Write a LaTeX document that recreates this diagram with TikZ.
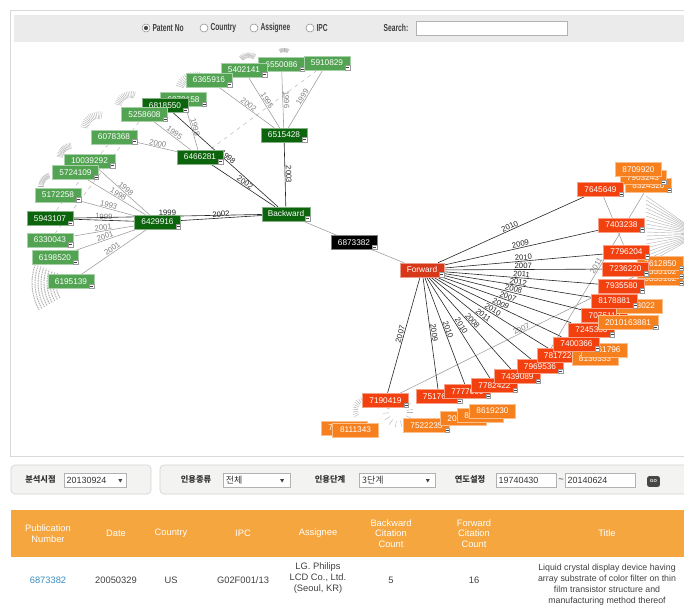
\documentclass[tikz,border=0pt]{standalone}
\usepackage{fontspec}
\setmainfont{Liberation Sans}
\newfontfamily\narrowfont[FakeStretch=0.66]{Liberation Sans}
\newfontfamily\krfont{Noto Sans CJK KR}
\usetikzlibrary{positioning, calc, backgrounds}

\definecolor{dkgreen}{HTML}{0C640C}
\definecolor{ltgreen}{HTML}{52A352}
\definecolor{fwred}{HTML}{D8381A}
\definecolor{citred}{HTML}{F2410F}
\definecolor{citorange}{HTML}{F7801E}
\definecolor{barbg}{HTML}{EBEBEB}
\definecolor{ctlbg}{HTML}{F3F3F1}
\definecolor{hdrorange}{HTML}{F5A63F}
\definecolor{linkblue}{HTML}{3B8EBE}

\begin{document}
\begin{tikzpicture}[x=0.75pt, y=-0.75pt,
    pat/.style={
        rectangle,
        draw=white!50!#1,
        fill=#1,
        text=white,
        minimum width=34.5pt,
        minimum height=10.5pt,
        inner sep=0pt,
        line width=0.4pt,
        font=\fontsize{6.2}{7}\selectfont
    },
    mi/.style={
        append after command={
            node[minus, anchor=south east] at (\tikzlastnode.south east) {}}
    },
    minus/.style={
        draw=black!40,
        fill=white,
        inner sep=0pt,
        minimum size=3.6pt,
        line width=0.3pt,
        path picture={\draw[black!75, line width=0.5pt]
            ([xshift=0.8pt]path picture bounding box.west) --
            ([xshift=-0.8pt]path picture bounding box.east);}
    },
    link/.style={black!85, line width=0.45pt},
    glink/.style={black!40, line width=0.4pt},
    dlink/.style={black!28, line width=0.35pt, dashed},
    yr/.style={font=\fontsize{5.8}{6}\selectfont, sloped, inner sep=0.5pt, above},
    gyr/.style={yr, text=black!50},
    clut/.style={black!30, line width=0.3pt},
    bartxt/.style={
        font=\narrowfont\bfseries\fontsize{7.6}{8}\selectfont,
        text=black!75,
        inner sep=1pt
    },
    radio/.style={circle, draw=black!45, fill=white, minimum size=6pt,
        inner sep=0pt, line width=0.4pt},
    inbox/.style={
        rectangle,
        draw=black!30,
        fill=white,
        minimum height=10.5pt,
        inner sep=2pt,
        line width=0.4pt,
        font=\fontsize{6.7}{8}\selectfont,
        text=black!80
    },
    ctlbox/.style={draw=black!17, fill=ctlbg, rounded corners=3pt, line width=0.5pt},
    krlbl/.style={font=\krfont\bfseries\fontsize{6.2}{8}\selectfont, text=black!80, inner sep=0pt},
    hdr/.style={font=\fontsize{7}{7.9}\selectfont, text=white, align=center, inner sep=0pt},
    cell/.style={font=\fontsize{7}{8.25}\selectfont, text=black!75, align=center, inner sep=0pt}
]
\useasboundingbox (0,0) rectangle (684,606);

% Panels
\begin{scope}[on background layer]
\fill[white] (0,0) rectangle (684,606);
\draw[black!15] (10.5,10.5) rectangle (700,456);
\fill[barbg, draw=black!8] (14,15) rectangle (700,41);
\end{scope}

% Top bar
\node[radio] (rpat) at (146,28) {};
\fill[black!70] (rpat) circle (1.6pt);
\node[bartxt, right=0.5pt of rpat] (tpat) {Patent No};
\node[radio] (rcty) at (204,28) {};
\node[bartxt, right=0.5pt of rcty] (tcty) {Country};
\node[radio] (rasg) at (254,28) {};
\node[bartxt, right=0.5pt of rasg] (tasg) {Assignee};
\node[radio] (ripc) at (310,28) {};
\node[bartxt, right=0.5pt of ripc] (tipc) {IPC};
\node[bartxt] (tsrch) at (396,28) {Search:};
\node[inbox, minimum width=113pt] (sbox) at (491.5,28) {};

% Backward tree
\node[pat=ltgreen, mi] (g6550086) at (281.5,64.5) {6550086};
\node[pat=ltgreen, mi] (g5402141) at (244,70) {5402141};
\node[pat=ltgreen, mi] (g6365916) at (209,80) {6365916};
\node[pat=ltgreen, mi] (g5910829) at (327,63) {5910829};
\node[pat=ltgreen, mi] (g6070158) at (183.5,99.5) {6070158};
\node[pat=dkgreen, mi] (b5) at (165,105.5) {6818550};
\node[pat=ltgreen, mi] (g5258608) at (144.5,114.5) {5258608};
\node[pat=ltgreen, mi] (g6078368) at (114,137) {6078368};
\node[pat=ltgreen, mi, minimum width=38.25pt] (g10039292) at (89.5,161) {10039292};
\node[pat=ltgreen, mi] (g5724109) at (75.5,172.5) {5724109};
\node[pat=ltgreen, mi] (g5172258) at (58,195) {5172258};
\node[pat=dkgreen, mi] (b4) at (50,218.5) {5943107};
\node[pat=ltgreen, mi] (g6330043) at (50,240) {6330043};
\node[pat=ltgreen, mi] (g6198520) at (55,257.5) {6198520};
\node[pat=ltgreen, mi] (g6195139) at (71,281.5) {6195139};
\node[pat=dkgreen, mi] (b1) at (284,135) {6515428};
\node[pat=dkgreen, mi] (b2) at (200,157) {6466281};
\node[pat=dkgreen, mi] (b3) at (157.5,222) {6429916};
\node[pat=dkgreen, mi, minimum width=36pt] (bw) at (286,214) {Backward};
\node[pat=black, mi] (root) at (354,242.5) {6873382};
\node[pat=fwred, mi, minimum width=33pt] (fw) at (422,270) {Forward};

% Forward tree
\node[pat=citorange] (o7648201) at (344.5,428) {7648201};
\node[pat=citorange] (o8111343) at (355.5,430) {8111343};
\node[pat=citorange, mi] (o7522235) at (426.5,425.5) {7522235};
\node[pat=citorange] (o2012075) at (463.5,418.5) {2012075};
\node[pat=citorange] (o8093871) at (480.5,415.5) {8093871};
\node[pat=citorange] (o8619230) at (492.5,411) {8619230};
\node[pat=citred, mi] (r7190419) at (385.5,400.5) {7190419};
\node[pat=citred, mi] (r7517662) at (439,396.5) {7517662};
\node[pat=citred, mi] (r7777000) at (467.5,391.5) {7777000};
\node[pat=citred, mi] (r7782422) at (494.5,385.5) {7782422};
\node[pat=citred, mi] (r7439089) at (517.5,376.5) {7439089};
\node[pat=citred, mi] (r7969536) at (540,366.5) {7969536};
\node[pat=citred, mi] (r7817224) at (560,355.5) {7817224};
\node[pat=citorange] (o8136333) at (595,358.5) {8136333};
\node[pat=citorange] (o8861796) at (604.5,350) {8861796};
\node[pat=citred, mi] (r7400366) at (576.5,344) {7400366};
\node[pat=citred, mi] (r7245330) at (591.5,330) {7245330};
\node[pat=citred, mi] (r7075110) at (604.5,315.5) {7075110};
\node[pat=citorange, mi, minimum width=45pt] (o2010163881) at (628,322.5) {2010163881};
\node[pat=citorange] (o8373022) at (639,306) {8373022};
\node[pat=citred, mi] (r8178881) at (614.5,301) {8178881};
\node[pat=citorange, mi] (o6555162) at (660.5,278.5) {6555162};
\node[pat=citorange, mi] (o5555102) at (660.5,271.5) {5555102};
\node[pat=citorange, mi] (o7612850) at (660.5,263.5) {7612850};
\node[pat=citred, mi] (r7935580) at (621.5,286) {7935580};
\node[pat=citred, mi] (r7236220) at (625.5,269) {7236220};
\node[pat=citred, mi] (r7796204) at (626.5,252) {7796204};
\node[pat=citred, mi] (r7403238) at (621.5,225) {7403238};
\node[pat=citorange, mi] (o8324320) at (648.5,185.5) {8324320};
\node[pat=citorange, mi] (o7903243) at (643,177.5) {7903243};
\node[pat=citorange] (o8709920) at (638.5,169.5) {8709920};
\node[pat=citred, mi] (r7645649) at (600.5,189.5) {7645649};

% Links
\begin{scope}[on background layer]
% third-level clutter
\foreach \cx/\cy/\ra/\rb/\rr in {195/92/200/290/12, 249/66/225/300/8,
    284/58/240/300/6, 131/108/195/285/10, 99/130/190/280/11,
    72/158/185/265/9, 52/186/180/255/8, 398/412/0/350/9, 366/410/150/300/8}
  \foreach \i in {0,...,14}
    \draw[clut] (\cx,\cy) ++({\ra+\i*(\rb-\ra)/14}:\rr)
        -- ++({\ra+\i*(\rb-\ra)/14}:{0.7*\rr});
\foreach \rr in {30,33,...,54}
  \draw[clut, line width=0.7pt, dash pattern=on 1.2pt off 0.6pt]
      (86,283) ++(150:\rr) arc[start angle=150, end angle=200, radius=\rr];
\foreach \yy in {196,200,...,264}
  \draw[clut] (646,\yy) -- (700,234);

\draw[dlink] (g5910829) -- (b2);
\draw[dlink] (g5258608) -- (g6330043);
\draw[dlink] (g6078368) -- (b4);

% backward
\draw[glink] (b1) -- node[gyr] {1995} (g5402141);
\draw[glink] (b1) -- node[gyr] {1996} (g6550086);
\draw[glink] (b1) -- node[gyr] {1999} (g5910829);
\draw[glink] (b1) -- node[gyr] {2002} (g6365916);
\draw[glink] (b2) -- node[gyr] {1998} (g6070158);
\draw[glink] (b2) -- node[gyr] {1995} (g5258608);
\draw[glink] (b2) -- node[gyr] {2000} (g6078368);
\draw[glink] (b3) -- node[gyr] {1998} (g10039292);
\draw[glink] (b3) -- node[gyr] {1998} (g5724109);
\draw[glink] (b3) -- node[gyr] {1993} (g5172258);
\draw[link]  (b3) -- node[gyr] {1999} (b4);
\draw[glink] (b3) -- node[gyr] {2001} (g6330043);
\draw[glink] (b3) -- node[gyr] {2001} (g6198520);
\draw[glink] (b3) -- node[gyr] {2001} (g6195139);
\draw[link] (bw) -- node[yr] {2003} (b1);
\draw[link] (bw) -- node[yr] {2002} (b2);
\draw[link] (bw) -- node[yr] {1998} (b5);
\draw[link] (bw) -- node[yr] {2002} (b3);
\draw[link] (bw) -- node[yr] {1999} (b4);
\draw[glink] (bw) -- (root);
\draw[glink] (root) -- (fw);

% forward
\draw[glink] (r7190419) -- node[gyr] {2007} (o7612850);
\draw[glink] (r7969536) -- node[gyr, pos=0.55] {2011} (o8324320);
\draw[glink] (r7645649) -- (r7796204);
\draw[link] (fw) -- node[yr] {2010} (r7645649);
\draw[link] (fw) -- node[yr] {2009} (r7403238);
\draw[link] (fw) -- node[yr] {2010} (r7796204);
\draw[link] (fw) -- node[yr] {2007} (r7236220);
\draw[link] (fw) -- node[yr] {2011} (r7935580);
\draw[link] (fw) -- node[yr] {2012} (r8178881);
\draw[link] (fw) -- node[yr] {2008} (r7075110);
\draw[link] (fw) -- node[yr] {2007} (r7245330);
\draw[link] (fw) -- node[yr] {2009} (r7400366);
\draw[link] (fw) -- node[yr] {2010} (r7817224);
\draw[link] (fw) -- node[yr] {2011} (r7969536);
\draw[link] (fw) -- node[yr] {2008} (r7439089);
\draw[link] (fw) -- node[yr] {2010} (r7782422);
\draw[link] (fw) -- node[yr] {2010} (r7777000);
\draw[link] (fw) -- node[yr] {2009} (r7517662);
\draw[link] (fw) -- node[yr] {2007} (r7190419);
\end{scope}

% Controls
\draw[ctlbox] (11,465) rectangle (151,494);
\draw[ctlbox] (160,465) rectangle (700,494);
\node[krlbl] (lbl1) at (40.5,479.5) {분석시점};
\node[inbox, text width=42.5pt, align=left] (dd1) at (95,480.5) {20130924};
\fill[black!75] ($(dd1.east)+(-8,-1.5)$) -- ++(4,0) -- ++(-2,3.5) -- cycle;
\node[krlbl] (lbl2) at (196,479.5) {인용종류};
\node[inbox, text width=46pt, align=left] (dd2) at (256.5,480.5) {\krfont 전체};
\fill[black!75] ($(dd2.east)+(-10,-1.5)$) -- ++(4,0) -- ++(-2,3.5) -- cycle;
\node[krlbl] (lbl3) at (330,479.5) {인용단계};
\node[inbox, text width=53pt, align=left] (dd3) at (397.5,480.5) {\krfont 3단계};
\fill[black!75] ($(dd3.east)+(-10,-1.5)$) -- ++(4,0) -- ++(-2,3.5) -- cycle;
\node[krlbl] (lbl4) at (470,479.5) {연도설정};
\node[inbox, text width=41pt, align=left] (in1) at (526,480.5) {19740430};
\node[cell] (tilde) at (561,480.5) {\textasciitilde};
\node[inbox, text width=48.5pt, align=left] (in2) at (600,480.5) {20140624};
\node[fill=black!72, rounded corners=1.5pt, minimum width=9.5pt,
    minimum height=8pt, inner sep=0pt, text=white,
    font=\bfseries\fontsize{3.2}{4}\selectfont] (go) at (653.5,481.5) {GO};

% Table
\fill[hdrorange] (11,510) rectangle (700,557);
\node[hdr] (hpub) at (48,533.5) {Publication\\Number};
\node[hdr] (hdate) at (116,533.5) {Date};
\node[hdr] (hcty) at (171,533.5) {Country};
\node[hdr] (hipc) at (243,533.5) {IPC};
\node[hdr] (hasg) at (318,533.5) {Assignee};
\node[hdr] (hbwd) at (391,533.5) {Backward\\Citation\\Count};
\node[hdr] (hfwd) at (474,533.5) {Forward\\Citation\\Count};
\node[hdr] (httl) at (607,533.5) {Title};
\node[cell, text=linkblue] (cpub) at (48,580) {6873382};
\node[cell] (cdate) at (116,580) {20050329};
\node[cell] (ccty) at (171,580) {US};
\node[cell] (cipc) at (243,580) {G02F001/13};
\node[cell] (casg) at (318,578) {LG. Philips\\LCD Co., Ltd.\\(Seoul, KR)};
\node[cell] (cbwd) at (391,580) {5};
\node[cell] (cfwd) at (474,580) {16};
\node[cell, font=\fontsize{6.6}{8.25}\selectfont] (cttl) at (607,585)
    {Liquid crystal display device having\\array substrate of color filter on thin\\film transistor structure and\\manufacturing method thereof};

\end{tikzpicture}
\end{document}
